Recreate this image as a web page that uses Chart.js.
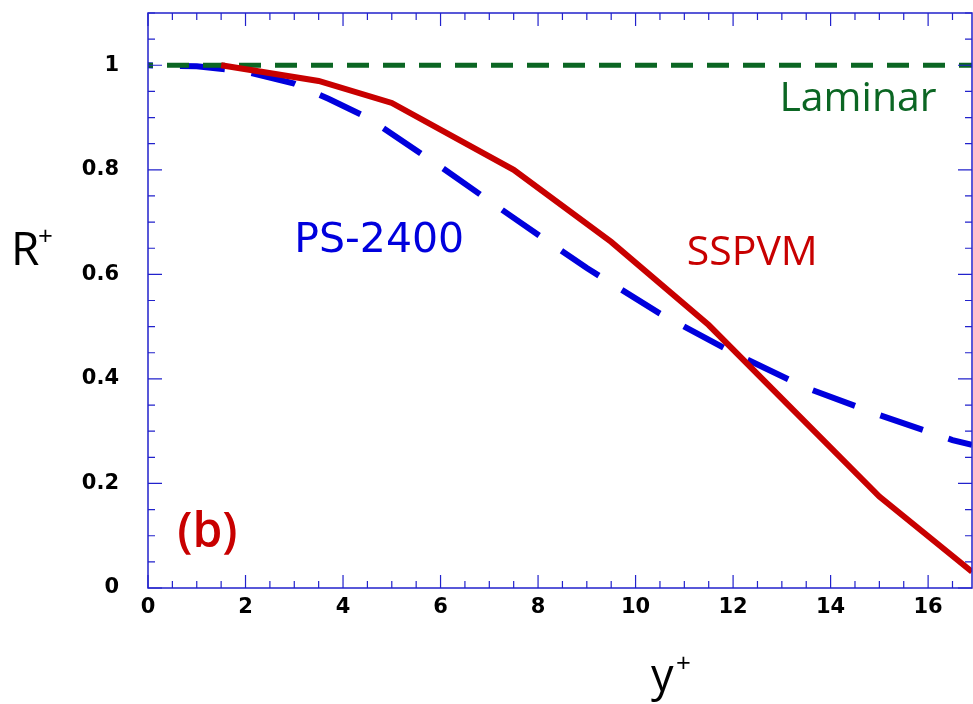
<!DOCTYPE html>
<html>
<head>
<meta charset="utf-8">
<script src="https://cdn.jsdelivr.net/npm/chart.js@4.4.1/dist/chart.umd.min.js"></script>
<style>
  html, body { margin: 0; padding: 0; background: #fff; }
  canvas { display: block; }
</style>
</head>
<body>
<canvas id="rChart" width="973" height="704"></canvas>
<script>
// values
const sspvmX = [1.5, 3.5, 5.0, 7.5, 9.5, 11.5, 15.0, 16.9];
const sspvmY = [1.0, 0.970, 0.928, 0.800, 0.662, 0.503, 0.175, 0.031];

const psX = [0, 1, 2, 3, 3.7, 4.5, 6, 7.5, 9, 10.5, 12, 13.5, 15, 16.5, 16.9];
const psY = [1.0, 0.998, 0.988, 0.965, 0.936, 0.900, 0.806, 0.708, 0.612, 0.525, 0.450, 0.383, 0.331, 0.283, 0.274];

const laminarX = [0, 16.9];
const laminarY = [1, 1];

const xTicks = [0, 2, 4, 6, 8, 10, 12, 14, 16];
const yTicks = [0, 0.2, 0.4, 0.6, 0.8, 1];

const xMin = 0, xMax = 16.9;
const yMin = 0, yMax = 1.1;

const toPoints = (xs, ys) => xs.map((x, i) => ({ x: x, y: ys[i] }));

const axisColor = '#2222cc';
const tickFont = { family: 'DejaVu Sans', size: 21, weight: 'bold' };

// frame, inward ticks and the text labels
const framePlugin = {
  id: 'frame',
  afterDatasetsDraw(chart) {
    const { ctx, chartArea: a, scales: { x, y } } = chart;
    ctx.save();
    ctx.strokeStyle = axisColor;
    ctx.lineWidth = 1.5;
    ctx.strokeRect(a.left, a.top, a.right - a.left, a.bottom - a.top);

    ctx.lineWidth = 1.2;
    ctx.beginPath();
    for (let v = 0; v <= xMax + 1e-9; v += 0.5) {
      const px = x.getPixelForValue(v);
      const len = Math.abs(v % 2) < 1e-6 ? 13 : 7;
      ctx.moveTo(px, a.bottom); ctx.lineTo(px, a.bottom - len);
      ctx.moveTo(px, a.top); ctx.lineTo(px, a.top + len);
    }
    for (let i = 0; i <= 22; i++) {
      const v = i * 0.05;
      const py = y.getPixelForValue(v);
      const len = i % 4 === 0 ? 14 : 7;
      ctx.moveTo(a.left, py); ctx.lineTo(a.left + len, py);
      ctx.moveTo(a.right, py); ctx.lineTo(a.right - len, py);
    }
    ctx.stroke();

    // axis titles
    ctx.fillStyle = '#000';
    ctx.textAlign = 'left';
    ctx.textBaseline = 'alphabetic';
    ctx.font = '46px "Open Sans"';
    ctx.fillText('R', 11, 265);
    ctx.font = '45px "Open Sans"';
    ctx.fillText('y', 651, 691);
    ctx.font = '26px "Open Sans"';
    ctx.fillText('+', 38, 245);
    ctx.fillText('+', 676, 672);

    // curve labels
    ctx.font = '41px "Open Sans"';
    ctx.fillStyle = '#0b6623';
    ctx.fillText('Laminar', x.getPixelForValue(12.95), y.getPixelForValue(0.913));
    ctx.fillStyle = '#c80000';
    ctx.fillText('SSPVM', x.getPixelForValue(11.05), y.getPixelForValue(0.618));
    ctx.font = '600 48px "Open Sans"';
    ctx.fillText('(b)', x.getPixelForValue(0.6), y.getPixelForValue(0.078));
    ctx.font = '41px "DejaVu Sans"';
    ctx.fillStyle = '#0000dd';
    ctx.fillText('PS-2400', x.getPixelForValue(3.0), y.getPixelForValue(0.643));
    ctx.restore();
  }
};

const ctx = document.getElementById('rChart').getContext('2d');

new Chart(ctx, {
  type: 'line',
  data: {
    datasets: [
      {
        label: 'SSPVM',
        data: toPoints(sspvmX, sspvmY),
        borderColor: '#c80000',
        borderWidth: 6,
        pointRadius: 0,
        tension: 0
      },
      {
        label: 'Laminar',
        data: toPoints(laminarX, laminarY),
        borderColor: '#0b6623',
        borderWidth: 5,
        borderDash: [22, 14],
        borderDashOffset: 17,
        pointRadius: 0
      },
      {
        label: 'PS-2400',
        data: toPoints(psX, psY),
        borderColor: '#0000dd',
        borderWidth: 6,
        borderDash: [45, 27],
        borderDashOffset: 40,
        pointRadius: 0,
        tension: 0
      }
    ]
  },
  options: {
    responsive: false,
    animation: false,
    layout: { padding: { top: 13, right: 1, left: 0, bottom: 0 } },
    plugins: {
      legend: { display: false },
      tooltip: { enabled: false }
    },
    scales: {
      x: {
        type: 'linear',
        min: xMin,
        max: xMax,
        grid: { display: false, drawTicks: false },
        border: { display: false },
        afterBuildTicks: (s) => { s.ticks = xTicks.map(v => ({ value: v })); },
        afterFit: (s) => { s.height = 116; s.paddingLeft = 0; s.paddingRight = 0; },
        ticks: {
          color: '#000',
          font: tickFont,
          padding: 7,
          maxRotation: 0,
          callback: (v) => String(v)
        }
      },
      y: {
        type: 'linear',
        min: yMin,
        max: yMax,
        grid: { display: false, drawTicks: false },
        border: { display: false },
        afterBuildTicks: (s) => { s.ticks = yTicks.map(v => ({ value: v })); },
        afterFit: (s) => { s.width = 148; s.paddingTop = 0; s.paddingBottom = 0; },
        ticks: {
          color: '#000',
          font: tickFont,
          padding: 29,
          callback: (v) => String(v)
        }
      }
    }
  },
  plugins: [framePlugin]
});
</script>
</body>
</html>
